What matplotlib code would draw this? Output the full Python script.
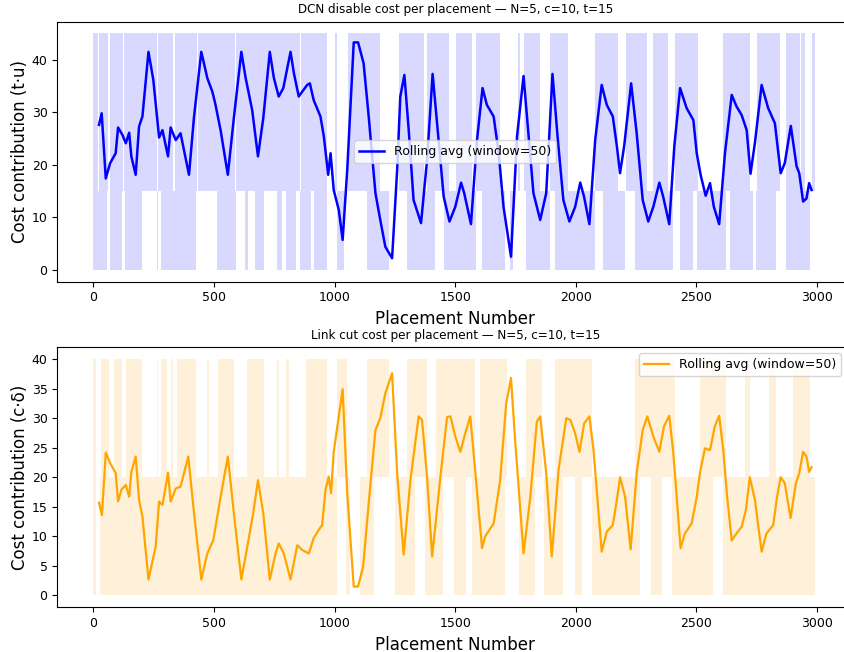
import matplotlib
matplotlib.use("Agg")
import matplotlib.pyplot as plt
import numpy as np

# ---------------- data ----------------
# DCN disable cost: rolling average (window=50)
top_avg_x = [23, 34, 51, 69, 92, 102, 120, 134, 148, 157, 175, 189, 203, 228, 248, 272, 286, 309, 320, 341,
             361, 396, 417, 447, 472, 493, 506, 527, 557, 582, 613, 631, 658, 682, 704, 731, 748, 768, 787, 817,
             831, 851, 865, 886, 897, 913, 941, 955, 973, 983, 996, 1017, 1033, 1052, 1079, 1097, 1120, 1141, 1169, 1189,
             1210, 1238, 1259, 1272, 1289, 1307, 1327, 1358, 1383, 1406, 1431, 1452, 1476, 1500, 1524, 1537, 1565, 1590, 1613, 1631,
             1659, 1680, 1700, 1731, 1756, 1783, 1804, 1824, 1852, 1877, 1903, 1924, 1948, 1973, 1997, 2018, 2034, 2056, 2080, 2107,
             2128, 2153, 2170, 2183, 2200, 2229, 2252, 2277, 2300, 2321, 2346, 2362, 2387, 2408, 2432, 2459, 2487, 2501, 2517, 2538,
             2556, 2572, 2594, 2618, 2646, 2666, 2687, 2708, 2724, 2742, 2770, 2797, 2825, 2849, 2866, 2891, 2915, 2926, 2942, 2956,
             2967, 2977]
top_avg_y = [27.6, 29.8, 17.4, 20.3, 22.2, 27.1, 25.7, 24.1, 26.1, 21.6, 18.1, 27.3, 29.2, 41.5, 36.2, 25.2, 26.6, 21.6, 27.1, 24.7,
             26.0, 18.1, 29.2, 41.5, 36.5, 33.9, 31.4, 26.6, 18.1, 28.9, 41.5, 36.5, 30.4, 21.6, 28.9, 41.5, 36.5, 33.0, 34.6, 41.5,
             37.4, 33.0, 33.9, 35.2, 35.5, 32.3, 29.2, 25.4, 18.1, 22.2, 15.2, 11.4, 5.7, 19.0, 43.3, 43.3, 39.3, 29.2, 14.6, 9.5,
             4.4, 2.2, 19.0, 33.0, 37.1, 26.6, 13.3, 8.9, 20.9, 37.3, 24.7, 13.9, 9.2, 12.0, 16.6, 14.6, 8.7, 24.7, 34.6, 31.4,
             29.2, 22.2, 12.0, 2.5, 25.4, 36.9, 25.4, 14.6, 9.5, 14.6, 37.3, 25.4, 13.3, 9.2, 12.0, 16.6, 13.9, 8.7, 24.7, 35.2,
             31.4, 29.2, 23.5, 18.4, 23.5, 35.5, 26.0, 13.3, 9.2, 12.0, 16.6, 13.9, 8.7, 23.5, 34.6, 30.8, 28.5, 22.2, 18.1, 14.1,
             16.5, 12.0, 8.7, 22.2, 33.3, 31.1, 29.5, 26.6, 18.3, 24.1, 35.2, 30.8, 27.9, 18.4, 20.3, 27.4, 19.7, 18.4, 13.0, 13.6,
             16.5, 15.2]

# Link cut cost: rolling average (window=50)
bot_avg_x = [23, 35, 51, 69, 92, 102, 116, 134, 148, 157, 175, 189, 203, 228, 258, 272, 286, 309, 320, 341,
             361, 393, 417, 447, 472, 497, 527, 557, 582, 613, 638, 662, 682, 704, 731, 755, 768, 789, 817, 845,
             865, 893, 913, 934, 948, 962, 975, 985, 996, 1017, 1033, 1052, 1079, 1097, 1118, 1141, 1169, 1189, 1210, 1238,
             1259, 1286, 1314, 1348, 1362, 1383, 1404, 1438, 1466, 1480, 1500, 1521, 1541, 1562, 1576, 1611, 1624, 1659, 1686, 1711,
             1731, 1748, 1783, 1811, 1838, 1852, 1877, 1900, 1928, 1960, 1977, 1997, 2015, 2034, 2056, 2073, 2107, 2128, 2153, 2170,
             2183, 2204, 2227, 2252, 2277, 2296, 2321, 2346, 2365, 2387, 2404, 2434, 2452, 2480, 2501, 2514, 2535, 2556, 2576, 2594,
             2611, 2627, 2646, 2666, 2687, 2705, 2721, 2742, 2770, 2790, 2818, 2834, 2849, 2866, 2890, 2912, 2926, 2942, 2956, 2967,
             2977]
bot_avg_y = [15.7, 13.6, 24.2, 22.4, 20.7, 15.9, 17.9, 18.7, 16.7, 20.9, 23.5, 16.2, 13.3, 2.7, 8.3, 15.9, 15.3, 20.8, 15.9, 18.1,
             18.4, 23.5, 13.9, 2.7, 7.1, 9.4, 16.7, 23.5, 13.9, 2.7, 8.3, 13.9, 19.5, 13.9, 2.7, 7.1, 8.8, 7.1, 2.7, 8.5,
             7.7, 7.1, 9.7, 11.1, 11.9, 17.9, 20.1, 17.3, 24.3, 30.3, 34.9, 17.3, 1.5, 1.5, 4.9, 15.6, 28.0, 30.0, 34.2, 37.6,
             20.7, 6.9, 19.5, 30.3, 29.7, 20.1, 6.6, 20.0, 30.2, 30.3, 26.9, 24.3, 27.4, 30.3, 24.1, 8.0, 10.0, 12.2, 19.5, 32.5,
             36.8, 26.3, 7.1, 16.7, 29.4, 30.3, 20.7, 6.6, 21.2, 30.0, 29.7, 27.4, 24.3, 29.1, 30.3, 24.6, 7.4, 10.8, 11.9, 16.2,
             20.0, 16.7, 7.8, 20.7, 28.0, 30.3, 26.9, 24.3, 28.6, 30.4, 24.1, 8.0, 10.5, 12.2, 16.7, 20.7, 24.9, 24.6, 28.6, 30.4,
             24.6, 16.7, 9.3, 10.5, 11.6, 14.5, 20.0, 16.2, 7.4, 10.5, 11.9, 16.7, 20.0, 19.0, 13.1, 19.0, 20.7, 24.3, 23.5, 20.9,
             21.7]

# Per-placement cost levels and the placement spans over which the raw series
# switches between two levels (the shaded bands of the raw trace)
top_levels = [0, 15, 45]
top_upper_spans = [(0, 18), (24, 62), (70, 122), (128, 262), (268, 330), (338, 428), (434, 585), (592, 855),
                   (862, 968), (1003, 1010), (1055, 1187), (1265, 1369), (1383, 1472), (1504, 1569), (1587, 1686),
                   (1760, 1770), (1783, 1852), (1893, 1966), (2080, 2176), (2208, 2294), (2321, 2383), (2411, 2507),
                   (2608, 2721), (2749, 2846), (2873, 2928), (2935, 2948), (2977, 2990)]
top_lower_spans = [(0, 58), (69, 120), (130, 203), (262, 268), (279, 423), (513, 589), (630, 640), (668, 706),
                   (760, 780), (800, 840), (858, 900), (913, 969), (1010, 1040), (1134, 1224), (1300, 1417),
                   (1452, 1587), (1610, 1707), (1725, 1740), (1794, 1893), (1914, 2080), (2114, 2204), (2245, 2404),
                   (2432, 2487), (2501, 2622), (2638, 2735), (2745, 2830), (2873, 2970)]

bot_levels = [0, 20, 40]
bot_upper_spans = [(0, 10), (30, 65), (85, 120), (134, 203), (262, 268), (279, 306), (320, 330), (348, 423),
                   (470, 480), (516, 582), (638, 706), (760, 770), (800, 810), (883, 969), (1010, 1052),
                   (1134, 1224), (1300, 1383), (1421, 1583), (1604, 1714), (1794, 1859), (1914, 2066),
                   (2245, 2411), (2514, 2622), (2700, 2720), (2800, 2830), (2900, 2970)]
bot_lower_spans = [(0, 10), (27, 1010), (1045, 1065), (1105, 1165), (1250, 1335), (1375, 1450), (1495, 1545),
                   (1570, 1705), (1765, 1830), (1868, 1945), (1995, 2025), (2068, 2265), (2310, 2355),
                   (2400, 2570), (2608, 2990)]

# ---------------- figure ----------------
plt.rcParams['font.family'] = ['DejaVu Sans']
fig = plt.figure(figsize=(8.45, 6.52), dpi=100)
ax1 = fig.add_axes([0.0678, 0.568, 0.942, 0.3988])
ax2 = fig.add_axes([0.0678, 0.0686, 0.942, 0.3988])

title_kw = dict(fontsize=9.5, fontstretch='condensed')


def draw_bands(ax, spans, lo, hi, color):
    for x0, x1 in spans:
        ax.fill_between([x0, x1], [lo, lo], [hi, hi], color=color, alpha=0.15, linewidth=0)


draw_bands(ax1, top_upper_spans, top_levels[1], top_levels[2], 'blue')
draw_bands(ax1, top_lower_spans, top_levels[0], top_levels[1], 'blue')
ax1.plot(top_avg_x, top_avg_y, color='blue', lw=1.8, label='Rolling avg (window=50)')
ax1.set_xlim(-150, 3150)
ax1.set_ylim(-2.25, 47.25)
ax1.set_title('DCN disable cost per placement — N=5, c=10, t=15', **title_kw)
ax1.set_xlabel('Placement Number', fontsize=12)
ax1.set_ylabel('Cost contribution (t·u)', fontsize=12, labelpad=2)
ax1.legend(loc='center', fontsize=9)

draw_bands(ax2, bot_upper_spans, bot_levels[1], bot_levels[2], 'orange')
draw_bands(ax2, bot_lower_spans, bot_levels[0], bot_levels[1], 'orange')
ax2.plot(bot_avg_x, bot_avg_y, color='orange', lw=1.6, label='Rolling avg (window=50)')
ax2.set_xlim(-150, 3150)
ax2.set_ylim(-2, 42)
ax2.set_yticks(range(0, 41, 5))
ax2.set_title('Link cut cost per placement — N=5, c=10, t=15', **title_kw)
ax2.set_xlabel('Placement Number', fontsize=12)
ax2.set_ylabel('Cost contribution (c·δ)', fontsize=12, labelpad=2)
ax2.legend(loc='upper right', fontsize=9, borderaxespad=0,
           bbox_to_anchor=(0.9953, 1 - 353 / 652), bbox_transform=fig.transFigure)

for ax in (ax1, ax2):
    ax.tick_params(labelsize=9)
    ax.set_xticks([0, 500, 1000, 1500, 2000, 2500, 3000])

fig.savefig('out.png', dpi=100)
